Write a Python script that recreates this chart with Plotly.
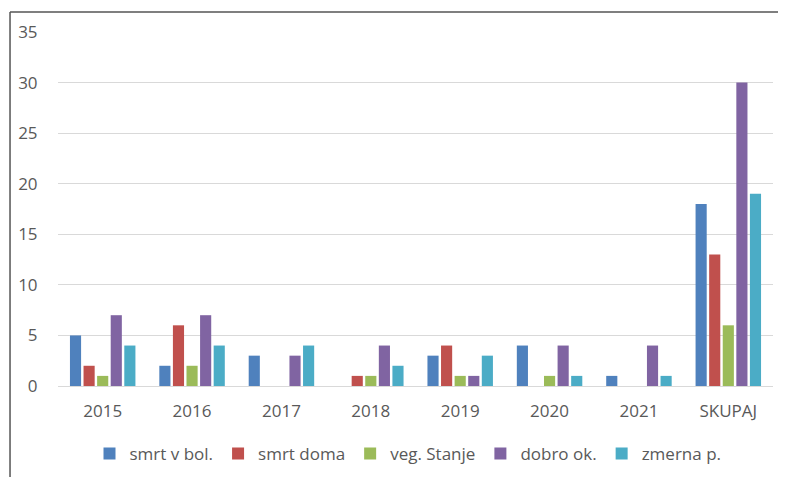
import plotly.graph_objects as go

categories = ["2015", "2016", "2017", "2018", "2019", "2020", "2021", "SKUPAJ"]
series_names = ["smrt v bol.", "smrt doma", "veg. Stanje", "dobro ok.", "zmerna p."]
smrt_v_bol = [5, 2, 3, 0, 3, 4, 1, 18]
smrt_doma = [2, 6, 0, 1, 4, 0, 0, 13]
veg_stanje = [1, 2, 0, 1, 1, 1, 0, 6]
dobro_ok = [7, 7, 3, 4, 1, 4, 4, 30]
zmerna_p = [4, 4, 4, 2, 3, 1, 1, 19]
y_ticks = [0, 5, 10, 15, 20, 25, 30, 35]

colors = ["#4F81BD", "#C0504D", "#9BBB59", "#8064A2", "#4BACC6"]
values = [smrt_v_bol, smrt_doma, veg_stanje, dobro_ok, zmerna_p]

fig = go.Figure()
for name, vals, col in zip(series_names, values, colors):
    fig.add_trace(go.Bar(x=categories, y=vals, name=name, marker_color=col,
                         marker_line_width=0))

font_family = "Open Sans, Lato, sans-serif"
fig.update_layout(
    width=778, height=469,
    margin=dict(l=50, r=13, t=24, b=91, autoexpand=False),
    paper_bgcolor="white", plot_bgcolor="white",
    barmode="group", bargap=0.24, bargroupgap=0.18,
    font=dict(family=font_family, size=17, color="#595959"),
    showlegend=True,
    legend=dict(orientation="h", x=400 / 778, xanchor="center", xref="container",
                y=23 / 469, yanchor="middle", yref="container",
                font=dict(size=17, color="#595959"), itemwidth=30, traceorder="normal"),
    xaxis=dict(showgrid=False, showline=True, linecolor="#d9d9d9", linewidth=1,
               ticks="outside", ticklen=10, tickcolor="rgba(0,0,0,0)",
               tickfont=dict(size=17, color="#595959")),
    yaxis=dict(range=[0, 35], tickvals=y_ticks, showgrid=True, gridcolor="#d9d9d9",
               gridwidth=1, zeroline=False, showline=False,
               ticks="outside", ticklen=16, tickcolor="rgba(0,0,0,0)",
               tickfont=dict(size=17, color="#595959")),
    shapes=[
        dict(type="line", xref="paper", yref="paper", x0=-0.0671, x1=-0.0671,
             y0=-0.26, y1=1.0565, line=dict(color="#555555", width=1.5)),
        dict(type="line", xref="paper", yref="paper", x0=-0.0671, x1=1.0182,
             y0=1.0565, y1=1.0565, line=dict(color="#555555", width=1.5)),
    ],
)

fig.write_html("out.html", post_script="document.body.style.overflow='hidden';")
